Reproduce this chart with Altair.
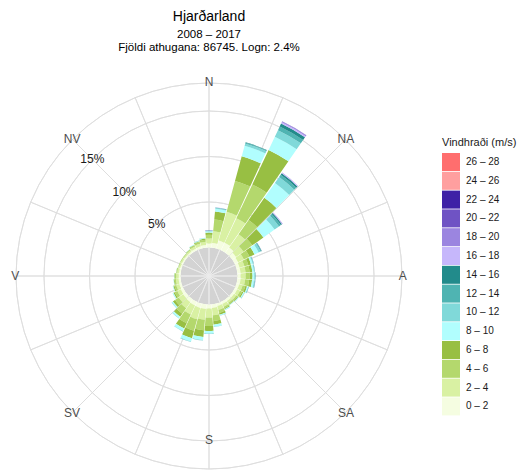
import math
import altair as alt
import pandas as pd

# Wind rose for Hjarðarland, 2008-2017: share of observations (%) per 10° sector and speed class
directions = list(range(0, 360, 10))

speed_classes = ["0 – 2", "2 – 4", "4 – 6", "6 – 8", "8 – 10", "10 – 12", "12 – 14",
                 "14 – 16", "16 – 18", "18 – 20", "20 – 22", "22 – 24", "24 – 26", "26 – 28"]
class_colors = ["#f5fde1", "#d9f1a3", "#b4d86d", "#98bf43", "#b1fefe", "#80d9d9", "#4fb4b2",
                "#228b8b", "#c6b7fb", "#9b85e0", "#6f53c4", "#3e21a6", "#ff9f9f", "#ff6e6e"]

# percentages, sectors 0°, 10°, ..., 350°
c00_02 = [0.45, 0.5, 0.9, 0.9, 0.7, 0.5, 0.4, 0.35, 0.35, 0.35, 0.35, 0.3, 0.3, 0.25, 0.25, 0.28, 0.3, 0.4,
          0.45, 0.5, 0.5, 0.45, 0.4, 0.35, 0.3, 0.25, 0.22, 0.2, 0.17, 0.15, 0.15, 0.15, 0.17, 0.2, 0.25, 0.3]
c02_04 = [0.55, 1.3, 3.3, 3.0, 1.8, 1.0, 0.7, 0.55, 0.55, 0.55, 0.5, 0.4, 0.35, 0.3, 0.27, 0.32, 0.45, 0.8,
          1.0, 1.2, 1.3, 1.1, 0.8, 0.6, 0.42, 0.35, 0.3, 0.27, 0.2, 0.16, 0.16, 0.15, 0.18, 0.25, 0.3, 0.35]
c04_06 = [0.4, 1.3, 3.5, 4.1, 1.9, 1.2, 0.7, 0.45, 0.45, 0.45, 0.45, 0.3, 0.25, 0.18, 0.15, 0.2, 0.32, 0.65,
          0.9, 1.15, 1.3, 1.05, 0.75, 0.5, 0.32, 0.22, 0.16, 0.14, 0.08, 0.06, 0.06, 0.06, 0.09, 0.13, 0.18, 0.22]
c06_08 = [0.25, 0.9, 2.8, 4.2, 3.0, 1.5, 0.6, 0.3, 0.3, 0.3, 0.32, 0.2, 0.15, 0.1, 0.08, 0.12, 0.2, 0.4,
          0.55, 0.75, 0.85, 0.65, 0.4, 0.28, 0.16, 0.12, 0.08, 0.06, 0.04, 0.02, 0.02, 0.03, 0.04, 0.07, 0.1, 0.13]
c08_10 = [0.12, 0.3, 1.2, 1.6, 2.0, 1.5, 0.5, 0.2, 0.17, 0.2, 0.2, 0.12, 0.1, 0.05, 0.04, 0.06, 0.1, 0.2,
          0.28, 0.33, 0.38, 0.3, 0.2, 0.13, 0.08, 0.05, 0.03, 0.03, 0.01, 0.01, 0.01, 0.01, 0.02, 0.04, 0.05, 0.07]
c10_12 = [0.05, 0.08, 0.25, 0.8, 0.8, 0.6, 0.25, 0.1, 0.08, 0.08, 0.1, 0.05, 0.03, 0.02, 0.01, 0.02, 0.03, 0.05,
          0.05, 0.05, 0.05, 0.04, 0.04, 0.03, 0.02, 0.01, 0.01, 0.0, 0.0, 0.0, 0.0, 0.0, 0.0, 0.01, 0.01, 0.02]
c12_14 = [0.03, 0.04, 0.1, 0.45, 0.3, 0.25, 0.1, 0.03, 0.03, 0.04, 0.04, 0.02, 0.01, 0.0, 0.0, 0.0, 0.0, 0.0,
          0.02, 0.02, 0.02, 0.01, 0.01, 0.01, 0.0, 0.0, 0.0, 0.0, 0.0, 0.0, 0.0, 0.0, 0.0, 0.0, 0.01, 0.01]
c14_16 = [0.02, 0.02, 0.05, 0.35, 0.2, 0.15, 0.03, 0.01, 0.01, 0.02, 0.02, 0.01, 0.01, 0.0, 0.0, 0.0, 0.0, 0.0,
          0.0, 0.0, 0.0, 0.0, 0.0, 0.0, 0.0, 0.0, 0.0, 0.0, 0.0, 0.0, 0.0, 0.0, 0.0, 0.0, 0.0, 0.0]
c16_18 = [0.01, 0.01, 0.0, 0.15, 0.07, 0.07, 0.01, 0.01, 0.01, 0.01, 0.01, 0.0, 0.0, 0.0, 0.0, 0.0, 0.0, 0.0,
          0.0, 0.0, 0.0, 0.0, 0.0, 0.0, 0.0, 0.0, 0.0, 0.0, 0.0, 0.0, 0.0, 0.0, 0.0, 0.0, 0.0, 0.0]
c18_20 = [0.01, 0.0, 0.0, 0.1, 0.03, 0.03, 0.01, 0.0, 0.0, 0.0, 0.01, 0.0, 0.0, 0.0, 0.0, 0.0, 0.0, 0.0,
          0.0, 0.0, 0.0, 0.0, 0.0, 0.0, 0.0, 0.0, 0.0, 0.0, 0.0, 0.0, 0.0, 0.0, 0.0, 0.0, 0.0, 0.0]
c20_22 = [0.01, 0.0, 0.0, 0.02, 0.0, 0.0, 0.0, 0.0, 0.0, 0.0, 0.0, 0.0, 0.0, 0.0, 0.0, 0.0, 0.0, 0.0,
          0.0, 0.0, 0.0, 0.0, 0.0, 0.0, 0.0, 0.0, 0.0, 0.0, 0.0, 0.0, 0.0, 0.0, 0.0, 0.0, 0.0, 0.0]

class_series = [c00_02, c02_04, c04_06, c06_08, c08_10, c10_12, c12_14,
                c14_16, c16_18, c18_20, c20_22]

compass_labels = ["N", "NA", "A", "SA", "S", "SV", "V", "NV"]
compass_angles = [0, 45, 90, 135, 180, 225, 270, 315]
compass_radius = [18.15, 18.15, 18.15, 18.15, 14.9, 18.15, 18.15, 18.15]
ring_pcts = [5, 10, 15]
outer_pct = 18.08
spoke_angles = [i * 22.5 for i in range(16)]

FONT = "Liberation Sans"
CX, CY = 209, 276
HALF_WIDTH = 4.7  # half angular width of a sector bar, degrees

# stack the speed classes outward in each sector
rows = []
for i, d in enumerate(directions):
    base = 0.0
    for cls, series in zip(speed_classes, class_series):
        v = series[i]
        if v > 0:
            rows.append({"dir": d, "cls": cls, "t0": d - HALF_WIDTH, "t1": d + HALF_WIDTH,
                         "r0": base, "r1": base + v})
        base += v
bars_df = pd.DataFrame(rows)

tscale = alt.Scale(type="linear", domain=[0, 360], range=[0, 2 * math.pi], nice=False, zero=False)
rscale = alt.Scale(type="linear", domain=[0, outer_pct], range=[28.5, 193], nice=False, zero=False)
cx = alt.value(CX)
cy = alt.value(CY)

# grey calm disc in the middle (radius = 0 %)
hole = alt.Chart(pd.DataFrame({"r": [0]})).mark_arc(
    color="#d3d3d3", theta=0, theta2=2 * math.pi
).encode(
    radius=alt.Radius("r:Q", scale=rscale, stack=False),
    radius2=alt.value(0),
    x=cx, y=cy,
)

rings = alt.Chart(pd.DataFrame({"r": ring_pcts + [outer_pct]})).mark_arc(
    filled=False, stroke="#dedede", strokeWidth=0.9, theta=0, theta2=2 * math.pi
).encode(
    radius=alt.Radius("r:Q", scale=rscale, stack=False),
    radius2="r:Q",
    x=cx, y=cy,
)


def spoke_layer(r_value, colour):
    return alt.Chart(pd.DataFrame({"a": spoke_angles, "r": [r_value] * 16})).mark_arc(
        filled=False, stroke=colour, strokeWidth=0.9
    ).encode(
        theta=alt.Theta("a:Q", scale=tscale, stack=False),
        theta2="a:Q",
        radius=alt.Radius("r:Q", scale=rscale, stack=False),
        radius2=alt.value(0),
        x=cx, y=cy,
    )


spokes = spoke_layer(outer_pct, "#dedede")
spokes_inner = spoke_layer(0, "#ebebeb")

bars = alt.Chart(bars_df).mark_arc(strokeWidth=0).encode(
    theta=alt.Theta("t0:Q", scale=tscale, stack=False),
    theta2="t1:Q",
    radius=alt.Radius("r1:Q", scale=rscale, stack=False),
    radius2="r0:Q",
    x=cx, y=cy,
    color=alt.Color(
        "cls:N",
        scale=alt.Scale(domain=speed_classes[::-1], range=class_colors[::-1]),
        legend=alt.Legend(
            title="Vindhraði (m/s)", orient="none", legendX=442, legendY=136.5,
            symbolType="square", symbolSize=324, symbolStrokeWidth=0, symbolOpacity=1,
            rowPadding=0.8, labelOffset=6, labelFont=FONT, labelFontSize=10,
            labelColor="#1a1a1a", titleFont=FONT, titleFontSize=11,
            titleFontWeight="normal", titleColor="#1a1a1a", titlePadding=5.5,
        ),
    ),
)

pct_labels = alt.Chart(pd.DataFrame({"r": ring_pcts, "a": [315] * 3,
                                     "t": [f"{p}%" for p in ring_pcts]})).mark_text(
    font=FONT, fontSize=12, color="#1a1a1a", align="center", baseline="middle"
).encode(
    theta=alt.Theta("a:Q", scale=tscale, stack=False),
    radius=alt.Radius("r:Q", scale=rscale, stack=False),
    text="t:N", x=cx, y=cy,
)

dir_labels = alt.Chart(pd.DataFrame({"a": compass_angles, "r": compass_radius,
                                     "t": compass_labels})).mark_text(
    font=FONT, fontSize=12, color="#4d4d4d", align="center", baseline="middle"
).encode(
    theta=alt.Theta("a:Q", scale=tscale, stack=False),
    radius=alt.Radius("r:Q", scale=rscale, stack=False),
    text="t:N", x=cx, y=cy,
)


def title_line(txt, size, ypos):
    return alt.Chart(pd.DataFrame({"t": [txt]})).mark_text(
        font=FONT, fontSize=size, color="#000000", align="center", baseline="middle"
    ).encode(text="t:N", x=alt.value(CX), y=alt.value(ypos))


chart = alt.layer(
    rings, spokes, hole, spokes_inner, bars, pct_labels, dir_labels,
    title_line("Hjarðarland", 14, 17),
    title_line("2008 – 2017", 11.5, 35),
    title_line("Fjöldi athugana: 86745. Logn: 2.4%", 11.5, 48),
).properties(
    width=528, height=473, autosize="none", padding=0
).configure_view(strokeWidth=0)

chart.save("out.html", embed_options={"renderer": "svg", "actions": False})
